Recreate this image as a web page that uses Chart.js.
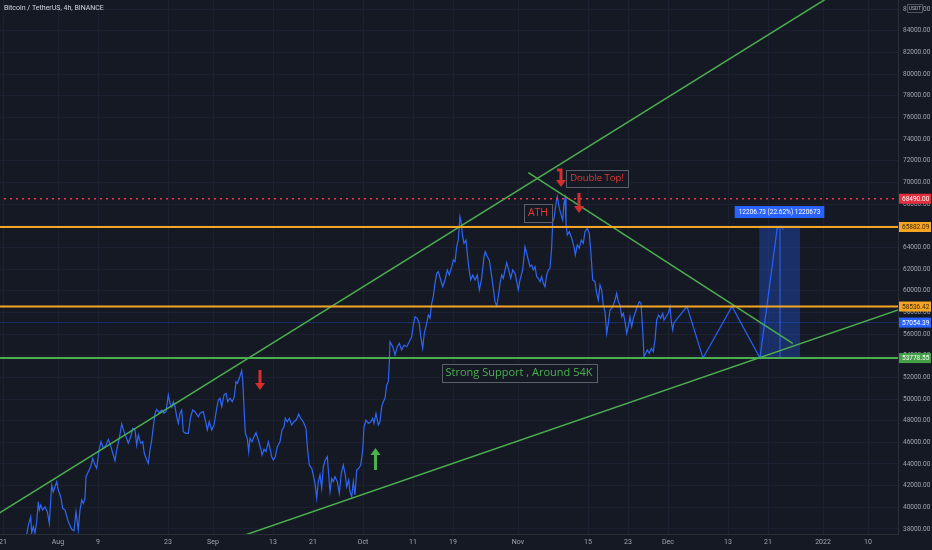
<!DOCTYPE html>
<html>
<head>
<meta charset="utf-8">
<script src="https://cdn.jsdelivr.net/npm/chart.js@4.4.1/dist/chart.umd.min.js"></script>
<style>
  html, body { margin: 0; padding: 0; background: #151924; }
  #wrap { width: 932px; height: 550px; position: relative; }
</style>
</head>
<body>
<div id="wrap"><canvas id="btcChart"></canvas></div>
<script>
// BTC/USDT 4h, BINANCE. x = days since 2021-07-21
const priceDays = [
  4.74, 5.06, 5.54, 5.74, 6.06, 6.4, 6.74, 7.06, 7.26, 7.54,
  7.94, 8.4, 8.86, 9.26, 9.74, 10.06, 10.4, 10.74, 11.06, 11.54,
  11.94, 12.4, 13.06, 13.74, 14.2, 14.6, 15.06, 15.4, 15.74, 16.06,
  16.4, 16.6, 17.06, 17.54, 17.94, 18.26, 18.74, 19.2, 19.6, 20.06,
  20.6, 21.06, 21.54, 22.06, 22.4, 22.74, 23.26, 23.74, 24.2, 24.6,
  25.06, 25.54, 25.94, 26.4, 26.74, 27.06, 27.54, 27.94, 28.26, 28.74,
  29.06, 29.4, 29.74, 29.94, 30.4, 30.74, 31.26, 31.74, 32.2, 32.6,
  33.06, 33.4, 33.74, 34.06, 34.4, 34.74, 35.06, 35.4, 35.74, 36.06,
  36.54, 37.06, 37.54, 37.94, 38.4, 39.06, 39.4, 40.06, 40.6, 40.86,
  41.26, 41.74, 42.2, 42.74, 43.06, 43.4, 43.74, 44.2, 44.6, 44.94,
  45.4, 45.86, 46.26, 46.6, 46.86, 47.26, 47.74, 47.94, 48.2, 48.46,
  48.86, 49.14, 49.4, 49.8, 50.2, 50.6, 51.06, 51.54, 51.8, 52.2,
  52.6, 53.06, 53.4, 53.74, 54.06, 54.46, 54.86, 55.4, 55.8, 56.2,
  56.46, 56.86, 57.26, 57.74, 58.2, 58.74, 59.14, 59.54, 60.06, 60.6,
  60.86, 61.26, 61.74, 62.06, 62.4, 62.74, 63.06, 63.4, 63.74, 64.06,
  64.46, 64.86, 65.14, 65.4, 65.74, 66.06, 66.4, 66.86, 67.26, 67.66,
  68.06, 68.46, 68.74, 69.14, 69.4, 69.74, 70.06, 70.4, 70.74, 71.14,
  71.54, 71.94, 72.2, 72.6, 73.06, 73.54, 73.94, 74.2, 74.6, 75.06,
  75.4, 75.74, 76.06, 76.4, 76.74, 77.06, 77.26, 77.4, 77.94, 78.4,
  78.86, 79.26, 79.74, 80.2, 80.74, 81.26, 81.74, 82.06, 82.4, 82.86,
  83.26, 83.54, 83.94, 84.26, 84.74, 85.06, 85.4, 85.74, 86.06, 86.4,
  86.74, 87.06, 87.54, 87.94, 88.4, 88.86, 89.26, 89.74, 90.06, 90.4,
  90.74, 91.06, 91.4, 91.66, 91.94, 92.2, 92.6, 92.86, 93.14, 93.54,
  93.94, 94.4, 94.86, 95.26, 95.74, 96.2, 96.46, 96.86, 97.26, 97.74,
  98.06, 98.4, 98.74, 99.06, 99.4, 99.74, 100.06, 100.4, 100.74, 101.14,
  101.54, 101.94, 102.4, 102.74, 103.06, 103.4, 103.94, 104.4, 104.74, 105.06,
  105.4, 105.74, 106.06, 106.4, 106.74, 107.06, 107.4, 107.74, 108.06, 108.4,
  108.74, 109.06, 109.4, 109.74, 109.94, 110.2, 110.6, 110.86, 111.2, 111.54,
  111.94, 112.2, 112.4, 112.6, 112.86, 113.26, 113.74, 114.2, 114.46, 114.86,
  115.26, 115.66, 116.06, 116.4, 116.86, 117.26, 117.54, 117.94, 118.4, 118.74,
  119.06, 119.4, 119.74, 120.06, 120.4, 120.74, 121.06, 121.4, 121.74, 122.06,
  122.4, 122.74, 123.06, 123.4, 123.74, 124.06, 124.4, 124.74, 125.06, 125.4,
  125.74, 126.06, 126.4, 126.74, 127.26, 127.6, 127.94, 128.2, 128.54, 128.86,
  129.26, 129.66, 130.06, 130.4, 130.74, 131.14, 131.54, 131.94, 132.2, 132.6,
  133.06, 133.4, 133.66, 133.94, 134.2
];
const priceValues = [
  37441, 38364, 39131, 37626, 38207, 37626, 38669, 40516, 39750, 40211,
  39750, 40054, 39593, 38521, 42058, 41439, 41901, 42363, 41596, 40978,
  39907, 39750, 38669, 37967, 37838, 39593, 37903, 39750, 40673, 40368,
  40830, 42824, 43286, 43748, 44523, 44062, 43600, 45290, 46056, 45447,
  45752, 46278, 45659, 44828, 44302, 45290, 46370, 47691, 46980, 46518,
  45909, 46518, 47294, 47137, 45752, 46675, 45909, 46056, 44985, 44367,
  44062, 45290, 46213, 46980, 48679, 49048, 48734, 48984, 48679, 48827,
  50369, 49602, 49233, 49750, 49288, 48365, 47755, 48679, 48984, 46980,
  46832, 46832, 48365, 48984, 48827, 48365, 48679, 48827, 47755, 47137,
  47903, 47137, 47598, 49141, 49907, 50064, 49288, 50369, 50526, 49750,
  50064, 49750, 50212, 51597, 51449, 51911, 52613, 51754, 49288, 46832,
  46370, 45133, 46370, 46056, 46518, 46888, 46213, 45447, 44828, 45355,
  45133, 46056, 45447, 44671, 44367, 44671, 45595, 46056, 47137, 47441,
  48217, 47903, 48217, 47598, 47903, 48125, 48614, 48217, 47903, 47294,
  45595, 43905, 43600, 42981, 42215, 40830, 42363, 42981, 41753, 43748,
  44367, 44671, 42981, 41439, 42677, 42363, 42824, 42363, 41292, 43139,
  43905, 42981, 41901, 42520, 41439, 40978, 42363, 41135, 43443, 43600,
  43905, 45290, 47441, 48060, 47755, 47903, 48217, 47755, 48679, 47598,
  47903, 49288, 49750, 50064, 51292, 51597, 53295, 55290, 54829, 54062,
  54829, 55143, 54524, 54986, 54829, 55290, 55752, 56832, 57599, 57451,
  56990, 55752, 54681, 56066, 56990, 57756, 57451, 58836, 59446, 60683,
  61606, 61754, 60988, 60369, 60988, 61911, 61449, 62216, 62835, 62677,
  64063, 64681, 66833, 66224, 64986, 64377, 64681, 63453, 62216, 60988,
  61449, 60988, 61449, 60064, 61145, 63140, 63601, 63140, 62835, 61293,
  60221, 58984, 58587, 59446, 60683, 61449, 61145, 61911, 62585, 61911,
  61145, 61911, 61606, 60831, 60064, 60988, 61911, 64063, 63453, 62835,
  62216, 62373, 61911, 62216, 61293, 61145, 60831, 61293, 60683, 60369,
  61449, 61911, 62068, 64063, 66371, 66685, 68070, 68680, 67756, 67147,
  66528, 68070, 68532, 66224, 65143, 65448, 64838, 64063, 63296, 64220,
  63915, 64681, 64377, 65448, 65762, 65300, 63758, 60988, 60831, 59759,
  59141, 60526, 60064, 58679, 58060, 56066, 56990, 58218, 58375, 58679,
  59141, 59759, 58984, 58679, 57599, 57913, 57137, 56066, 56676, 57599,
  56676, 57451, 57913, 58375, 58984, 58836, 56371, 53905, 54219, 54524,
  54219, 54681, 54367, 55447, 57294, 57756, 57451, 57913, 57294, 57599,
  57913, 58522, 57137, 56371, 57054.39
];

// hand drawn projection (zig-zag then breakout)
const projectionDays = [134.2, 136.8, 140, 145.8, 151.4, 154.9];
const projectionValues = [57054.39, 58536.42, 53778.55, 58536.42, 53778.55, 65985.28];

// trend lines
const upperTrendDays = [-2, 170];
const upperTrendValues = [39099, 88496];
const topTrendDays = [105.06, 157.94];
const topTrendValues = [70896, 55143];
const lowerTrendDays = [48.4, 182];
const lowerTrendValues = [37441, 58698];

// horizontal levels
const athLevel = 68490;
const resistanceLevel = 65882.09;
const midLevel = 58536.42;
const lastPrice = 57054.39;
const supportLevel = 53778.55;
const targetLevel = 65985.28;

const xTickDays = [0, 11, 19, 33, 42, 54, 62, 72, 82, 90, 103, 117, 125, 133, 145, 153, 164, 173];
const xTickLabels = ['21', 'Aug', '9', '23', 'Sep', '13', '21', 'Oct', '11', '19', 'Nov', '15', '23', 'Dec', '13', '21', '2022', '10'];
const yTicks = [38000, 40000, 42000, 44000, 46000, 48000, 50000, 52000, 54000, 56000, 58000, 60000,
  62000, 64000, 66000, 68000, 70000, 72000, 74000, 76000, 78000, 80000, 82000, 84000, 86000];

const BG = '#151924';
const pts = (days, vals) => days.map((d, i) => ({x: d, y: vals[i]}));
const hline = v => [{x: -1, y: v}, {x: 181, y: v}];

function textBox(ctx, text, cx, cy, color, size) {
  ctx.font = '500 ' + size + 'px "Open Sans", sans-serif';
  const w = ctx.measureText(text).width + 8, h = size + 7;
  ctx.fillStyle = BG;
  ctx.fillRect(cx - w / 2, cy - h / 2, w, h);
  ctx.strokeStyle = '#5d606b';
  ctx.lineWidth = 1;
  ctx.strokeRect(Math.round(cx - w / 2) + 0.5, Math.round(cy - h / 2) + 0.5, Math.round(w), Math.round(h));
  ctx.fillStyle = color;
  ctx.textAlign = 'center';
  ctx.textBaseline = 'middle';
  ctx.fillText(text, cx, cy + 0.5);
}

function arrow(ctx, cx, y1, y2, color, hook) {
  // y1 = tail, y2 = head
  const dir = y2 > y1 ? 1 : -1;
  ctx.strokeStyle = color;
  ctx.fillStyle = color;
  ctx.lineWidth = 3;
  ctx.beginPath();
  if (hook) ctx.moveTo(cx - 4, y1);
  else ctx.moveTo(cx, y1);
  ctx.lineTo(cx, y1);
  ctx.lineTo(cx, y2 - dir * 5);
  ctx.stroke();
  ctx.beginPath();
  ctx.moveTo(cx - 5, y2 - dir * 7);
  ctx.lineTo(cx + 5, y2 - dir * 7);
  ctx.lineTo(cx, y2);
  ctx.closePath();
  ctx.fill();
}

const drawings = {
  id: 'drawings',
  beforeDatasetsDraw(chart) {
    const {ctx, scales: {x, y}} = chart;
    // long position style range box
    const l = x.getPixelForValue(151.26), r = x.getPixelForValue(159.4);
    const t = y.getPixelForValue(targetLevel), b = y.getPixelForValue(supportLevel);
    const m = x.getPixelForValue(155.3);
    ctx.save();
    ctx.fillStyle = 'rgba(41,98,255,0.3)';
    ctx.fillRect(l, t, r - l, b - t);
    ctx.strokeStyle = 'rgba(120,150,230,0.7)';
    ctx.lineWidth = 1;
    ctx.beginPath();
    ctx.moveTo(l, t + 0.5); ctx.lineTo(r, t + 0.5);
    ctx.stroke();
    ctx.strokeStyle = 'rgba(60,110,255,0.8)';
    ctx.beginPath();
    ctx.moveTo(m + 0.5, b); ctx.lineTo(m + 0.5, t);
    ctx.moveTo(m - 3, t + 4); ctx.lineTo(m + 0.5, t); ctx.lineTo(m + 4, t + 4);
    ctx.stroke();
    ctx.restore();
  },
  afterDatasetsDraw(chart) {
    const {ctx, scales: {x, y}} = chart;
    ctx.save();
    textBox(ctx, 'Strong Support , Around 54K', x.getPixelForValue(103.2), y.getPixelForValue(52446), '#4caf50', 11);
    textBox(ctx, 'ATH', x.getPixelForValue(107), y.getPixelForValue(67202), '#e53935', 10.5);
    textBox(ctx, 'Double Top!', x.getPixelForValue(118.8), y.getPixelForValue(70406), '#e53935', 9.5);

    arrow(ctx, x.getPixelForValue(111.6), y.getPixelForValue(71145), y.getPixelForValue(69575), '#d32f2f', true);
    arrow(ctx, x.getPixelForValue(115.2), y.getPixelForValue(69021), y.getPixelForValue(67174), '#d32f2f');
    arrow(ctx, x.getPixelForValue(51.4), y.getPixelForValue(52677), y.getPixelForValue(50831), '#d32f2f');
    arrow(ctx, x.getPixelForValue(74.5), y.getPixelForValue(43443), y.getPixelForValue(45475), '#4caf50');

    // range label
    const cx = x.getPixelForValue(155.3), cy = y.getPixelForValue(67267);
    const txt = '12206.73 (22.62%) 1220673';
    ctx.font = '6.5px Roboto, sans-serif';
    const w = ctx.measureText(txt).width + 8;
    ctx.fillStyle = '#2962ff';
    ctx.fillRect(cx - w / 2, cy - 6, w, 12);
    ctx.fillStyle = '#ffffff';
    ctx.textAlign = 'center';
    ctx.textBaseline = 'middle';
    ctx.fillText(txt, cx, cy);
    ctx.restore();
  },
  afterDraw(chart) {
    const {ctx, chartArea, scales: {y}} = chart;
    ctx.save();
    // title
    ctx.font = '7px Roboto, sans-serif';
    ctx.fillStyle = '#d1d4dc';
    ctx.textAlign = 'left';
    ctx.textBaseline = 'middle';
    ctx.fillText('Bitcoin / TetherUS, 4h, BINANCE', 4, 8.5);

    // price tags on the axis
    const tags = [
      [athLevel, '#e0303f', '#ffffff'],
      [resistanceLevel, '#f5a524', '#3a2600'],
      [midLevel, '#f5a524', '#3a2600'],
      [lastPrice, '#2962ff', '#ffffff'],
      [supportLevel, '#43a047', '#ffffff']
    ];
    ctx.font = '6.5px Roboto, sans-serif';
    tags.forEach(([v, bg, fg]) => {
      const py = y.getPixelForValue(v);
      ctx.fillStyle = bg;
      ctx.fillRect(chartArea.right + 1, py - 5, 932 - chartArea.right - 2, 10);
      ctx.fillStyle = fg;
      ctx.fillText(v.toFixed(2), chartArea.right + 4, py + 0.5);
    });

    // currency header
    ctx.fillStyle = BG;
    ctx.fillRect(907, 4, 16, 9);
    ctx.strokeStyle = '#50535e';
    ctx.strokeRect(907.5, 4.5, 15, 8);
    ctx.fillStyle = '#b2b5be';
    ctx.font = '5px Roboto, sans-serif';
    ctx.textAlign = 'center';
    ctx.fillText('USDT', 915, 9);
    ctx.restore();
  }
};

const line = (label, data, color, width, extra) => Object.assign({
  label, data, borderColor: color, borderWidth: width,
  pointRadius: 0, tension: 0, fill: false
}, extra || {});

new Chart(document.getElementById('btcChart'), {
  type: 'line',
  data: {
    datasets: [
      line('ATH', hline(athLevel), '#f23645', 1.3, {borderDash: [2, 4]}),
      line('Resistance', hline(resistanceLevel), '#f5a524', 2),
      line('Mid', hline(midLevel), '#f5a524', 2),
      line('Support', hline(supportLevel), '#4caf50', 2),
      line('Upper trend', pts(upperTrendDays, upperTrendValues), '#4caf50', 1.5),
      line('Top trend', pts(topTrendDays, topTrendValues), '#4caf50', 1.5),
      line('Lower trend', pts(lowerTrendDays, lowerTrendValues), '#4caf50', 1.5),
      line('Projection', pts(projectionDays, projectionValues), '#2962ff', 1.2),
      line('BTCUSDT', pts(priceDays, priceValues), '#2f66f5', 1.2),
      line('Last', hline(lastPrice), 'rgba(41,98,255,0.3)', 1)
    ]
  },
  options: {
    responsive: true,
    maintainAspectRatio: false,
    animation: false,
    layout: { padding: 0, autoPadding: false },
    plugins: {
      legend: { display: false },
      tooltip: { enabled: false }
    },
    scales: {
      x: {
        type: 'linear',
        min: -0.6,
        max: 179,
        afterBuildTicks: s => { s.ticks = xTickDays.map(v => ({value: v})); },
        afterFit: s => { s.height = 16; s.paddingLeft = 0; s.paddingRight = 0; },
        ticks: {
          autoSkip: false, maxRotation: 0, padding: 4,
          color: '#a3a6af', font: { size: 7, family: 'Roboto' },
          callback: v => xTickLabels[xTickDays.indexOf(v)]
        },
        grid: { color: '#1c2030', drawTicks: false },
        border: { color: '#2a2e39' }
      },
      y: {
        position: 'right',
        min: 37535,
        max: 86842,
        afterBuildTicks: s => { s.ticks = yTicks.map(v => ({value: v})); },
        afterFit: s => { s.width = 34; s.paddingTop = 0; s.paddingBottom = 0; },
        ticks: {
          padding: 5,
          color: '#a3a6af', font: { size: 6.5, family: 'Roboto' },
          callback: v => v.toFixed(2)
        },
        grid: { color: '#1c2030', drawTicks: false },
        border: { color: '#2a2e39' }
      }
    }
  },
  plugins: [drawings]
});
</script>
</body>
</html>
